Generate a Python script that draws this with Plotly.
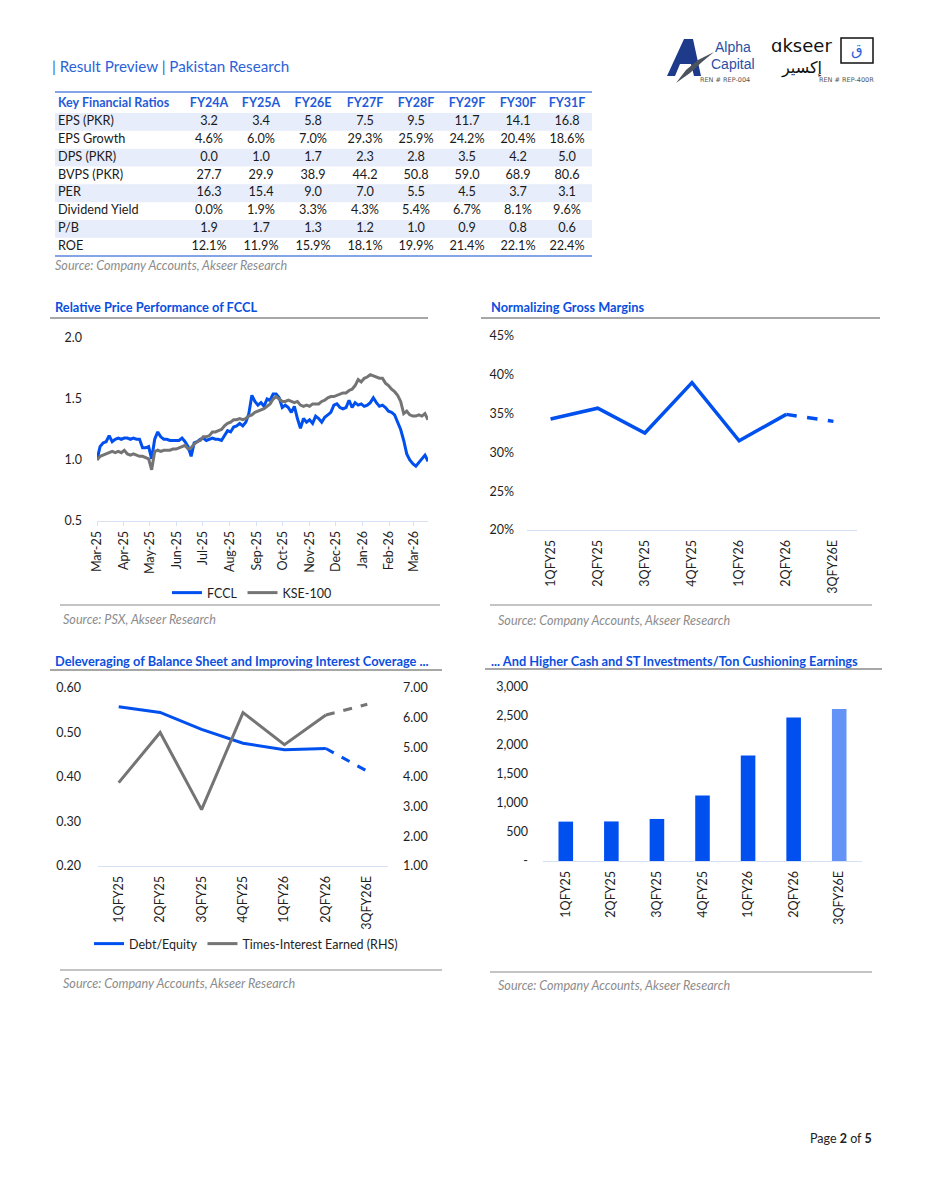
import plotly.graph_objects as go
import pandas as pd

# ---------------- data ----------------
RATIO_YEARS = ["FY24A", "FY25A", "FY26E", "FY27F", "FY28F", "FY29F", "FY30F", "FY31F"]
RATIO_NAMES = ["EPS (PKR)", "EPS Growth", "DPS (PKR)", "BVPS (PKR)", "PER",
               "Dividend Yield", "P/B", "ROE"]
EPS = [3.2, 3.4, 5.8, 7.5, 9.5, 11.7, 14.1, 16.8]
EPS_GROWTH = [4.6, 6.0, 7.0, 29.3, 25.9, 24.2, 20.4, 18.6]
DPS = [0.0, 1.0, 1.7, 2.3, 2.8, 3.5, 4.2, 5.0]
BVPS = [27.7, 29.9, 38.9, 44.2, 50.8, 59.0, 68.9, 80.6]
PER = [16.3, 15.4, 9.0, 7.0, 5.5, 4.5, 3.7, 3.1]
DIV_YIELD = [0.0, 1.9, 3.3, 4.3, 5.4, 6.7, 8.1, 9.6]
PB = [1.9, 1.7, 1.3, 1.2, 1.0, 0.9, 0.8, 0.6]
ROE = [12.1, 11.9, 15.9, 18.1, 19.9, 21.4, 22.1, 22.4]

PRICE_START = "2025-03-03"
FCCL = [1.00, 1.11, 1.14, 1.15, 1.20, 1.15, 1.17, 1.18, 1.17, 1.18,
        1.18, 1.17, 1.18, 1.17, 1.17, 1.10, 1.10, 1.11, 1.01, 1.17,
        1.23, 1.19, 1.17, 1.17, 1.16, 1.16, 1.16, 1.16, 1.18, 1.15,
        1.11, 1.03, 1.14, 1.15, 1.17, 1.18, 1.16, 1.17, 1.18, 1.17,
        1.17, 1.16, 1.20, 1.24, 1.23, 1.27, 1.28, 1.30, 1.28, 1.31,
        1.38, 1.53, 1.48, 1.45, 1.47, 1.44, 1.50, 1.49, 1.54, 1.54,
        1.51, 1.43, 1.45, 1.43, 1.39, 1.44, 1.34, 1.26, 1.34, 1.31,
        1.33, 1.30, 1.36, 1.34, 1.31, 1.35, 1.37, 1.39, 1.45, 1.46,
        1.43, 1.42, 1.43, 1.49, 1.43, 1.47, 1.45, 1.46, 1.44, 1.45,
        1.47, 1.51, 1.47, 1.44, 1.45, 1.43, 1.40, 1.39, 1.37, 1.31,
        1.25, 1.16, 1.05, 1.00, 0.97, 0.95, 0.98, 1.01, 1.04, 0.99]
KSE100 = [1.00, 1.03, 1.04, 1.05, 1.06, 1.07, 1.06, 1.07, 1.06, 1.08,
          1.05, 1.04, 1.05, 1.04, 1.03, 1.03, 1.02, 1.01, 0.92, 1.07,
          1.08, 1.07, 1.08, 1.08, 1.08, 1.09, 1.09, 1.10, 1.11, 1.12,
          1.09, 1.10, 1.13, 1.15, 1.16, 1.19, 1.19, 1.20, 1.23, 1.23,
          1.24, 1.25, 1.28, 1.30, 1.31, 1.33, 1.33, 1.34, 1.33, 1.34,
          1.36, 1.37, 1.39, 1.40, 1.41, 1.42, 1.44, 1.46, 1.50, 1.52,
          1.50, 1.48, 1.48, 1.49, 1.48, 1.47, 1.48, 1.45, 1.44, 1.45,
          1.44, 1.46, 1.46, 1.46, 1.48, 1.49, 1.51, 1.52, 1.52, 1.53,
          1.54, 1.55, 1.55, 1.57, 1.58, 1.61, 1.66, 1.64, 1.67, 1.68,
          1.70, 1.69, 1.68, 1.67, 1.67, 1.63, 1.61, 1.58, 1.56, 1.53,
          1.48, 1.38, 1.40, 1.37, 1.36, 1.36, 1.37, 1.36, 1.38, 1.33]
MONTH_LABELS = ["Mar-25", "Apr-25", "May-25", "Jun-25", "Jul-25", "Aug-25", "Sep-25",
                "Oct-25", "Nov-25", "Dec-25", "Jan-26", "Feb-26", "Mar-26"]
PRICE_TICKS = [0.5, 1.0, 1.5, 2.0]

QUARTERS = ["1QFY25", "2QFY25", "3QFY25", "4QFY25", "1QFY26", "2QFY26", "3QFY26E"]
GROSS_MARGIN = [34.3, 35.7, 32.5, 39.0, 31.5, 34.9, 34.0]
DEBT_EQUITY = [0.558, 0.545, 0.507, 0.476, 0.461, 0.464, 0.413]
TIMES_INTEREST = [3.81, 5.50, 2.90, 6.17, 5.09, 6.09, 6.45]
CASH_PER_TON = [679, 682, 725, 1128, 1819, 2475, 2620]
CASH_TICKS = [0, 500, 1000, 1500, 2000, 2500, 3000]
CASH_TICK_TEXT = ["-", "500", "1,000", "1,500", "2,000", "2,500", "3,000"]

# ---------------- style ----------------
W, H = 927, 1200
OFF = 8  # page body margin of the html page
FONT = "Lato, 'Open Sans', sans-serif"
BLUE = "#0050F0"
LIGHT_BLUE_BAR = "#6393F6"
GRAY = "#747474"
TITLE_BLUE = "#0A4FE0"
AXIS_LINE = "#D6E1F5"
TEXT = "#1e1e1e"
ROW_FILL = "#E7EDFB"
TABLE_LEFT, TABLE_RIGHT = 55, 592
TABLE_LABEL_X = 58
TABLE_COL_X = [209, 261, 313, 365, 416, 467, 518, 567]


def X(px):
    return (px - OFF) / W


def Y(py):
    return 1 - (py - OFF) / H


fig = go.Figure()

# ---------------- table (hidden axes x5 / y6) ----------------
def fmt(vals, pct=False):
    return [f"{v:.1f}%" if pct else f"{v:.1f}" for v in vals]

rows = [fmt(EPS), fmt(EPS_GROWTH, True), fmt(DPS), fmt(BVPS), fmt(PER),
        fmt(DIV_YIELD, True), fmt(PB), fmt(ROE, True)]
row_idx = list(range(1, len(RATIO_NAMES) + 1))
shaded = [i for i in row_idx if i % 2 == 1]

fig.add_trace(go.Bar(orientation="h", y=shaded, x=[TABLE_RIGHT - TABLE_LEFT] * len(shaded),
                     base=TABLE_LEFT, width=1.0, marker=dict(color=ROW_FILL, line_width=0),
                     xaxis="x5", yaxis="y6", showlegend=False))
fig.add_trace(go.Scatter(x=[TABLE_LABEL_X] + TABLE_COL_X, y=[0] * (len(RATIO_YEARS) + 1),
                         mode="text", text=["<b>Key Financial Ratios</b>"] + [f"<b>{y}</b>" for y in RATIO_YEARS],
                         textposition=["middle right"] + ["middle center"] * len(RATIO_YEARS),
                         textfont=dict(family=FONT, size=12.5, color="#1F5BD8"),
                         xaxis="x5", yaxis="y6", showlegend=False))
fig.add_trace(go.Scatter(x=[TABLE_LABEL_X] * len(RATIO_NAMES), y=row_idx, mode="text",
                         text=RATIO_NAMES, textposition="middle right",
                         textfont=dict(family=FONT, size=12.7, color="#1a1a1a"),
                         xaxis="x5", yaxis="y6", showlegend=False))
cell_x, cell_y, cell_t = [], [], []
for r, vals in zip(row_idx, rows):
    for cx, v in zip(TABLE_COL_X, vals):
        cell_x.append(cx)
        cell_y.append(r)
        cell_t.append(v)
fig.add_trace(go.Scatter(x=cell_x, y=cell_y, mode="text", text=cell_t,
                         textposition="middle center",
                         textfont=dict(family=FONT, size=12.7, color="#1a1a1a"),
                         xaxis="x5", yaxis="y6", showlegend=False))

# ---------------- chart 1: relative price ----------------
dates = pd.date_range(PRICE_START, periods=len(FCCL), freq="84h")
month_ticks = [pd.Timestamp(PRICE_START) + pd.DateOffset(months=i) for i in range(len(MONTH_LABELS))]

fig.add_trace(go.Scatter(x=dates, y=FCCL, mode="lines", name="FCCL",
                         line=dict(color=BLUE, width=3), xaxis="x", yaxis="y",
                         legend="legend"))
fig.add_trace(go.Scatter(x=dates, y=KSE100, mode="lines", name="KSE-100",
                         line=dict(color=GRAY, width=3), xaxis="x", yaxis="y",
                         legend="legend"))

# ---------------- chart 2: gross margins ----------------
fig.add_trace(go.Scatter(x=QUARTERS[:6], y=GROSS_MARGIN[:6], mode="lines",
                         line=dict(color=BLUE, width=3.5), xaxis="x2", yaxis="y2",
                         showlegend=False))
fig.add_trace(go.Scatter(x=QUARTERS[5:], y=GROSS_MARGIN[5:], mode="lines",
                         line=dict(color=BLUE, width=3.5, dash="dash"), xaxis="x2", yaxis="y2",
                         showlegend=False))

# ---------------- chart 3: leverage ----------------
fig.add_trace(go.Scatter(x=QUARTERS[:6], y=DEBT_EQUITY[:6], mode="lines", name="Debt/Equity",
                         line=dict(color=BLUE, width=3), xaxis="x3", yaxis="y3",
                         legend="legend2"))
fig.add_trace(go.Scatter(x=QUARTERS[5:], y=DEBT_EQUITY[5:], mode="lines",
                         line=dict(color=BLUE, width=3, dash="dash"), xaxis="x3", yaxis="y3",
                         showlegend=False))
fig.add_trace(go.Scatter(x=QUARTERS[:6], y=TIMES_INTEREST[:6], mode="lines",
                         name="Times-Interest Earned (RHS)",
                         line=dict(color=GRAY, width=3), xaxis="x3", yaxis="y4",
                         legend="legend2"))
fig.add_trace(go.Scatter(x=QUARTERS[5:], y=TIMES_INTEREST[5:], mode="lines",
                         line=dict(color=GRAY, width=3, dash="dash"), xaxis="x3", yaxis="y4",
                         showlegend=False))

# ---------------- chart 4: cash per ton ----------------
bar_colors = [BLUE] * (len(QUARTERS) - 1) + [LIGHT_BLUE_BAR]
fig.add_trace(go.Bar(x=QUARTERS, y=CASH_PER_TON, marker=dict(color=bar_colors, line_width=0),
                     xaxis="x4", yaxis="y5", showlegend=False))

# ---------------- axes ----------------
tick_font = dict(family=FONT, size=12.5, color=TEXT)
cat_axis = dict(type="category", showgrid=False, zeroline=False, showline=True,
                linecolor=AXIS_LINE, linewidth=1, tickangle=-90, tickfont=tick_font,
                ticks="", ticklabelstandoff=4, range=[-0.5, 6.5], fixedrange=True,
                automargin=False)
val_axis = dict(showgrid=False, zeroline=False, showline=False, tickfont=tick_font,
                ticks="", automargin=False, fixedrange=True)

fig.update_layout(
    xaxis=dict(domain=[X(97), X(428)], anchor="y", type="date",
               range=[dates[0], dates[-1]], tickvals=month_ticks, ticktext=MONTH_LABELS,
               tickangle=-90, tickfont=tick_font, showgrid=False, zeroline=False,
               showline=True, linecolor=AXIS_LINE, ticks="outside", ticklen=4,
               tickcolor=AXIS_LINE, automargin=False, fixedrange=True),
    yaxis=dict(domain=[Y(521), Y(338)], anchor="x", range=[0.5, 2.0], tickvals=PRICE_TICKS,
               tickformat=".1f", ticklabelstandoff=14, **val_axis),
    xaxis2=dict(domain=[X(527), X(857)], anchor="y2", **cat_axis),
    yaxis2=dict(domain=[Y(530), Y(336)], anchor="x2", range=[20, 45], dtick=5,
                ticksuffix="%", ticklabelstandoff=12, **val_axis),
    xaxis3=dict(domain=[X(98), X(388)], anchor="y3", **cat_axis),
    yaxis3=dict(domain=[Y(866), Y(688)], anchor="x3", range=[0.2, 0.6], dtick=0.1,
                tickformat=".2f", ticklabelstandoff=16, **val_axis),
    yaxis4=dict(overlaying="y3", side="right", anchor="x3", range=[1, 7], dtick=1,
                tickformat=".2f", ticklabelstandoff=14, **val_axis),
    xaxis4=dict(domain=[X(543), X(862)], anchor="y5", **cat_axis),
    yaxis5=dict(domain=[Y(861), Y(687)], anchor="x4", range=[0, 3000],
                tickvals=CASH_TICKS, ticktext=CASH_TICK_TEXT, ticklabelstandoff=14,
                **val_axis),
    xaxis5=dict(domain=[X(TABLE_LEFT), X(TABLE_RIGHT)], anchor="y6",
                range=[TABLE_LEFT, TABLE_RIGHT], visible=False, fixedrange=True),
    yaxis6=dict(domain=[Y(256), Y(92)], anchor="x5", range=[8.52, -0.68],
                visible=False, fixedrange=True),
    bargap=0.68,
)

fig.update_layout(
    legend=dict(orientation="h", x=X(252), y=Y(593), xanchor="center", yanchor="middle",
                font=dict(family=FONT, size=12.5, color=TEXT), itemwidth=30,
                bgcolor="rgba(0,0,0,0)", tracegroupgap=0),
    legend2=dict(orientation="h", x=X(246), y=Y(944), xanchor="center", yanchor="middle",
                 font=dict(family=FONT, size=12.5, color=TEXT), itemwidth=30,
                 bgcolor="rgba(0,0,0,0)"),
)

# ---------------- text, lines ----------------
annotations = []
shapes = []


def txt(x, y, text, size=12, color=TEXT, xanchor="left", family=FONT):
    annotations.append(dict(x=X(x), y=Y(y), xref="paper", yref="paper", text=text,
                            showarrow=False, xanchor=xanchor, yanchor="middle",
                            font=dict(family=family, size=size, color=color)))


def hline(x0, x1, y, color="#8A8A8A", width=1.2):
    shapes.append(dict(type="line", xref="paper", yref="paper", x0=X(x0), x1=X(x1),
                       y0=Y(y), y1=Y(y), line=dict(color=color, width=width)))


txt(50, 66, "| Result Preview | Pakistan Research", size=15.2, color="#2B62D8")

# table borders
hline(TABLE_LEFT, TABLE_RIGHT, 92, color="#5B86E0", width=1.3)
hline(TABLE_LEFT, TABLE_RIGHT, 256, color="#5B86E0", width=1.3)
txt(53, 266, "<i>Source: Company Accounts, Akseer Research</i>", size=12.6, color="#8C8C8C")

# chart titles
TS = 12.8
txt(53, 307, "<b>Relative Price Performance of FCCL</b>", size=TS, color=TITLE_BLUE)
txt(489, 307, "<b>Normalizing Gross Margins</b>", size=TS, color=TITLE_BLUE)
txt(53, 661, "<b>Deleveraging of Balance Sheet and Improving Interest Coverage ...</b>",
    size=TS, color=TITLE_BLUE)
txt(489, 661, "<b>... And Higher Cash and ST Investments/Ton Cushioning Earnings</b>",
    size=TS, color=TITLE_BLUE)
hline(50, 428, 318, width=1.5)
hline(481, 880, 318, width=1.5)
hline(50, 442, 670, width=1.5)
hline(485, 882, 669, width=1.5)

# bottom lines & sources
hline(60, 440, 605)
hline(490, 872, 605)
hline(60, 442, 970)
hline(490, 872, 972)
txt(61, 619, "<i>Source: PSX, Akseer Research</i>", size=12.6, color="#8C8C8C")
txt(496, 620, "<i>Source: Company Accounts, Akseer Research</i>", size=12.6, color="#8C8C8C")
txt(61, 983, "<i>Source: Company Accounts, Akseer Research</i>", size=12.6, color="#8C8C8C")
txt(496, 986, "<i>Source: Company Accounts, Akseer Research</i>", size=12.6, color="#8C8C8C")

# page footer
txt(874, 1138, "Page <b>2</b> of <b>5</b>", size=12.5, color="#222222", xanchor="right")

# ---------------- logos ----------------
def path(points):
    return "M " + " L ".join(f"{X(a):.5f},{Y(b):.5f}" for a, b in points) + " Z"

shapes.append(dict(type="path", xref="paper", yref="paper",
                   path=path([(667, 76), (684, 39), (693, 39), (701, 76), (694, 76),
                              (691, 64), (680, 64), (675, 76)]),
                   fillcolor="#1E3A8A", line=dict(width=0)))
shapes.append(dict(type="path", xref="paper", yref="paper",
                   path=path([(676, 83), (686, 70), (698, 60), (714, 52), (702, 62), (690, 73)]),
                   fillcolor="#4d535c", line=dict(width=0)))
txt(733, 47, "Alpha", size=14, color="#2B4FA3", xanchor="center",
    family="'Liberation Sans', Arial, sans-serif")
txt(733, 64, "Capital", size=14, color="#2B4FA3", xanchor="center",
    family="'Liberation Sans', Arial, sans-serif")
txt(725, 80, "REN # REP-004", size=6.5, color="#555555", xanchor="center",
    family="'DejaVu Sans', sans-serif")
txt(801, 45, "ɑkseer", size=18, color="#111111", xanchor="center",
    family="'DejaVu Sans', sans-serif")
txt(801, 68, "إكسير", size=16, color="#111111", xanchor="center",
    family="'DejaVu Sans', sans-serif")
shapes.append(dict(type="rect", xref="paper", yref="paper", x0=X(841), x1=X(873),
                   y0=Y(63), y1=Y(38), line=dict(color="#111111", width=1.5),
                   fillcolor="white"))
txt(857, 50, "ق", size=15, color="#2B5FD9", xanchor="center",
    family="'DejaVu Sans', sans-serif")
txt(846, 80, "REN # REP-400R", size=6.5, color="#555555", xanchor="center",
    family="'DejaVu Sans', sans-serif")

fig.update_layout(
    width=W, height=H, margin=dict(l=0, r=0, t=0, b=0, autoexpand=False),
    paper_bgcolor="white", plot_bgcolor="white",
    font=dict(family=FONT, size=12, color=TEXT),
    annotations=annotations, shapes=shapes, hovermode=False,
)

fig.write_html("out.html", config={"displayModeBar": False})
